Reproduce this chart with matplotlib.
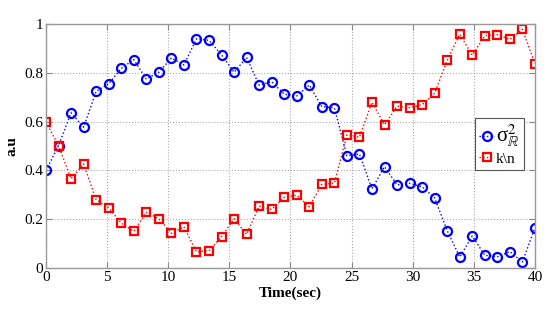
import numpy as np
import matplotlib
matplotlib.use("Agg")
import matplotlib.pyplot as plt

plt.rcParams['font.family'] = ['Liberation Serif', 'DejaVu Serif']
plt.rcParams['mathtext.fontset'] = 'stix'

time = np.linspace(0, 40, 40)
sigma_r = [0.400, 0.501, 0.636, 0.577, 0.724, 0.755, 0.818, 0.854, 0.775, 0.802,
           0.861, 0.832, 0.939, 0.933, 0.874, 0.802, 0.863, 0.749, 0.764, 0.712,
           0.705, 0.750, 0.661, 0.657, 0.460, 0.467, 0.324, 0.415, 0.341, 0.347,
           0.333, 0.287, 0.153, 0.045, 0.131, 0.052, 0.046, 0.067, 0.025, 0.165]
k_n = [0.598, 0.501, 0.366, 0.426, 0.280, 0.247, 0.184, 0.150, 0.228, 0.202,
       0.142, 0.169, 0.066, 0.071, 0.128, 0.202, 0.138, 0.254, 0.240, 0.290,
       0.298, 0.251, 0.343, 0.347, 0.545, 0.536, 0.679, 0.587, 0.663, 0.657,
       0.669, 0.716, 0.851, 0.958, 0.872, 0.952, 0.956, 0.937, 0.978, 0.837]
xticks = [0, 5, 10, 15, 20, 25, 30, 35, 40]
yticks = [0, 0.2, 0.4, 0.6, 0.8, 1]
yticklabels = ['0', '0.2', '0.4', '0.6', '0.8', '1']

fig = plt.figure(figsize=(5.59, 3.10), dpi=100)
ax = fig.add_axes([0.0823, 0.1355, 0.8747, 0.7871])

ax.plot(time, sigma_r, linestyle=':', color='#0000ff', marker='o', markersize=6.5,
        markerfacecolor='none', markeredgewidth=1.6, linewidth=1.0,
        label=r'σ$^{2}_{\mathbb{R}}$')
ax.plot(time, k_n, linestyle=':', color='#ff0000', marker='s', markersize=6,
        markerfacecolor='none', markeredgewidth=1.6, linewidth=1.0,
        label=r'k\n')

ax.set_xlim(0, 40)
ax.set_ylim(0, 1)
ax.set_xticks(xticks)
ax.set_yticks(yticks)
ax.set_yticklabels(yticklabels)
ax.tick_params(direction='in', labelsize=11, length=4, color='#888888',
               top=True, right=True, pad=2)
ax.grid(True, linestyle=':', color='#aaaaaa', linewidth=0.8)
for s in ax.spines.values():
    s.set_color('#999999')
    s.set_linewidth(1.0)

ax.set_xlabel('Time(sec)', fontsize=11, fontweight='bold', labelpad=2)
ax.set_ylabel('a.u', fontsize=11, fontweight='bold', labelpad=4)

leg = ax.legend(loc='lower right', bbox_to_anchor=(0.978, 0.40), fontsize=11,
                handlelength=1.0, handletextpad=0.1, borderpad=0.3,
                labelspacing=0.2, fancybox=False, framealpha=1,
                borderaxespad=0)
leg.get_texts()[0].set_fontsize(15)
leg.get_frame().set_edgecolor('#555555')
leg.get_frame().set_linewidth(0.8)

fig.savefig('out.png', dpi=100)
